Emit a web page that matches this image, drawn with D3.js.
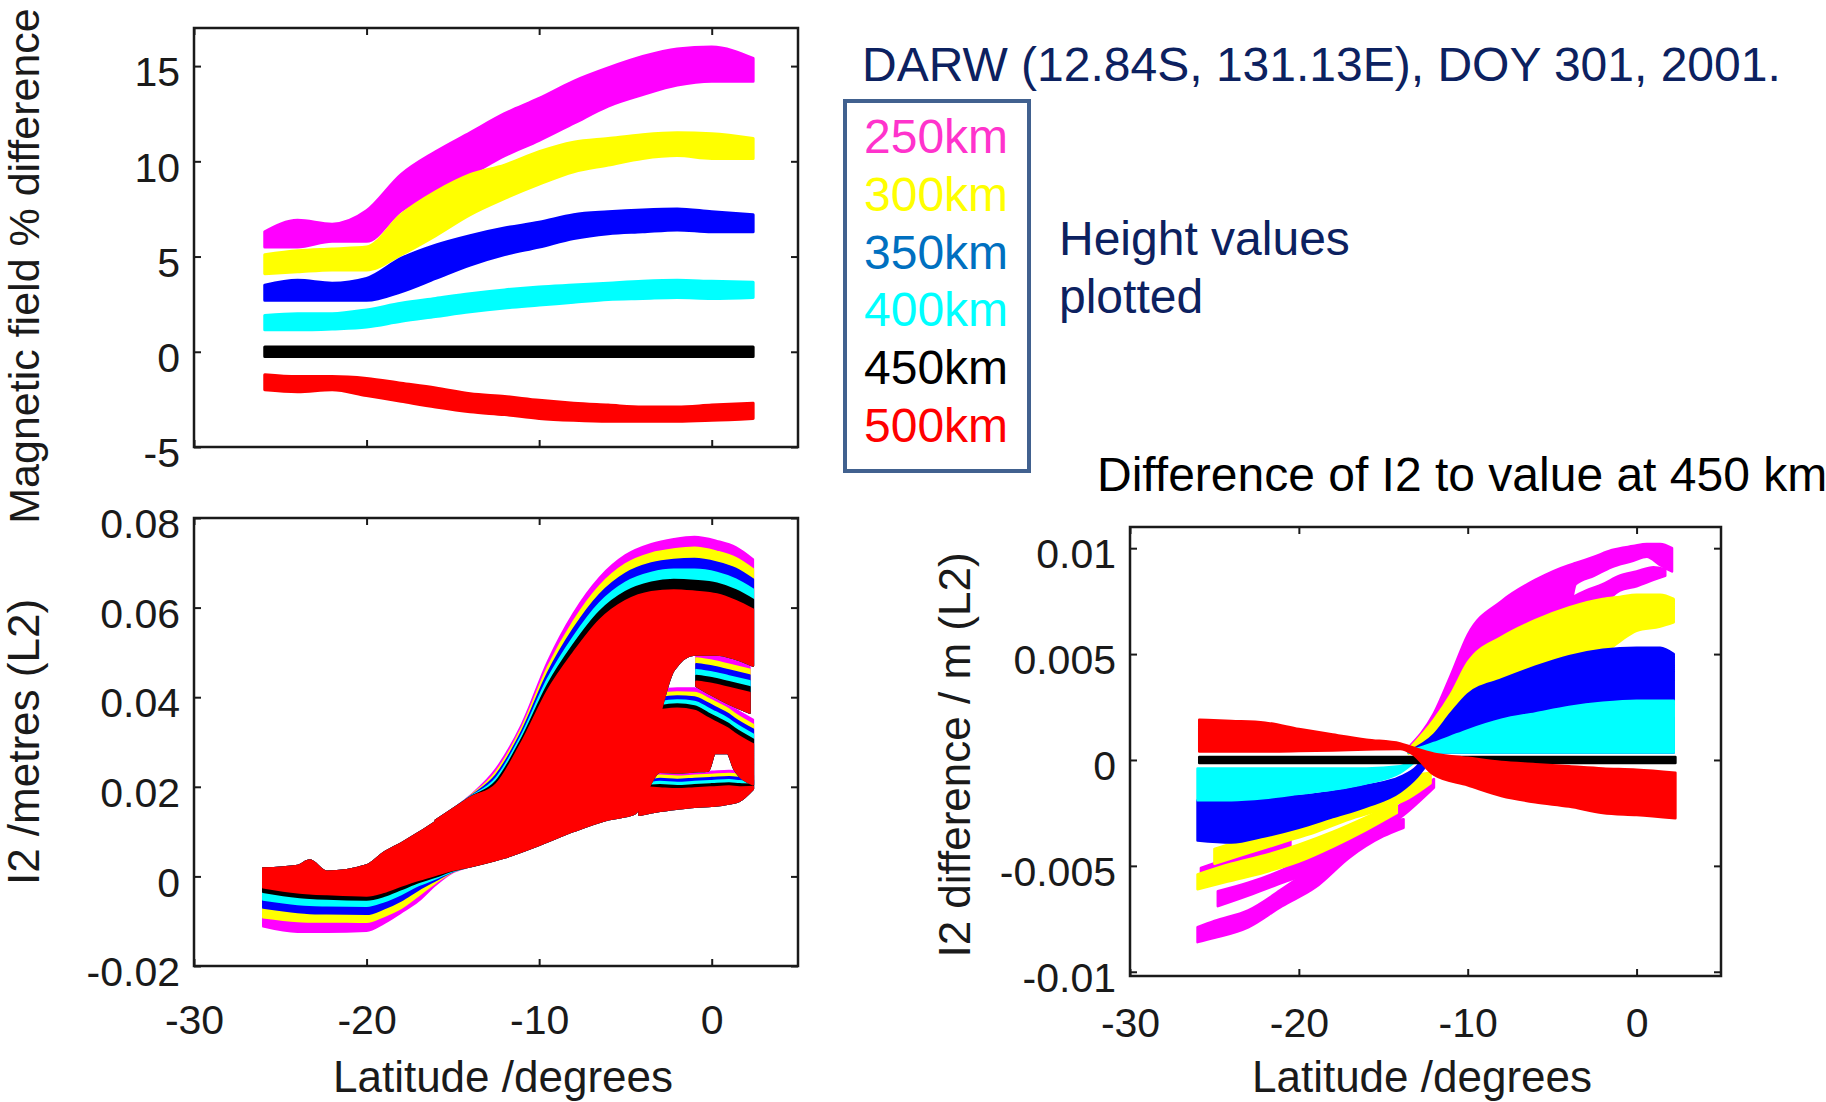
<!DOCTYPE html>
<html>
<head>
<meta charset="utf-8">
<script src="https://cdn.jsdelivr.net/npm/d3@7"></script>
<style>
  body { margin: 0; background: #fff; }
  svg text { font-family: "Liberation Sans", Arial, Helvetica, sans-serif; }
</style>
</head>
<body>
<script>
// DATA ------------------------------------

const heights = ["250km", "300km", "350km", "400km", "450km", "500km"];
const bandColors = ["#ff00ff", "#ffff00", "#0000ff", "#00ffff", "#000000", "#ff0000"];
const legendColors = ["#ff33cc", "#ffff00", "#0070c0", "#00ffff", "#000000", "#ff0000"];

const xTicks = [-30, -20, -10, 0];
const magTicks = [-5, 0, 5, 10, 15];
const i2Ticks = [-0.02, 0, 0.02, 0.04, 0.06, 0.08];
const dI2Ticks = [-0.01, -0.005, 0, 0.005, 0.01];

// top panel: magnetic field % difference, upper / lower edge of each band
const magLat = [-25.9, -24, -22, -20, -18, -16, -14, -12, -10, -8, -6, -4, -2, 0, 2.4];
const magHi = [
  [6.3, 6.9, 6.7, 7.4, 9.3, 10.5, 11.5, 12.5, 13.3, 14.2, 14.9, 15.5, 15.9, 16.0, 15.4],
  [5.1, 5.3, 5.4, 5.5, 7.2, 8.4, 9.3, 9.8, 10.5, 11.0, 11.2, 11.4, 11.5, 11.45, 11.2],
  [3.5, 3.75, 3.6, 3.85, 4.9, 5.6, 6.1, 6.5, 6.8, 7.2, 7.35, 7.45, 7.5, 7.35, 7.2],
  [1.9, 2.0, 2.0, 2.2, 2.55, 2.8, 3.05, 3.25, 3.4, 3.5, 3.6, 3.7, 3.75, 3.7, 3.65],
  [0.25, 0.25, 0.25, 0.25, 0.25, 0.25, 0.25, 0.25, 0.25, 0.25, 0.25, 0.25, 0.25, 0.25, 0.25],
  [-1.2, -1.3, -1.3, -1.4, -1.65, -1.9, -2.2, -2.35, -2.55, -2.7, -2.8, -2.9, -2.9, -2.8, -2.7]
];
const magLo = [
  [5.5, 5.5, 5.8, 5.8, 7.4, 8.4, 9.3, 10.3, 11.1, 12.0, 12.9, 13.5, 14.0, 14.2, 14.2],
  [4.1, 4.2, 4.3, 4.3, 5.1, 6.1, 7.2, 8.05, 8.8, 9.45, 9.8, 10.15, 10.3, 10.15, 10.15],
  [2.7, 2.7, 2.7, 2.7, 3.15, 3.85, 4.55, 5.1, 5.5, 5.95, 6.2, 6.3, 6.4, 6.3, 6.3],
  [1.15, 1.15, 1.2, 1.3, 1.6, 1.85, 2.1, 2.3, 2.45, 2.6, 2.75, 2.8, 2.85, 2.8, 2.85],
  [-0.25, -0.25, -0.25, -0.25, -0.25, -0.25, -0.25, -0.25, -0.25, -0.25, -0.25, -0.25, -0.25, -0.25, -0.25],
  [-2.0, -2.1, -2.0, -2.3, -2.6, -2.9, -3.15, -3.3, -3.5, -3.6, -3.65, -3.65, -3.65, -3.6, -3.5]
];

// bottom-left panel: I2 in metres, four parts of each cloud (body, upper arch, right branch, lower arm)
const i2BodyLat = [-26, -24, -23.3, -22.3, -20, -19, -18, -17, -16, -15, -14, -12, -10, -8, -6, -4.5, -3, -2, -1, -0.2, 0.2, 0.9, 1.3, 2.4];
const i2BodyHi = [
  [0.0018, 0.0024, 0.0036, 0.0011, 0.0025, 0.0053, 0.0074, 0.0097, 0.0122, 0.0148, 0.0176, 0.0200, 0.0250, 0.0300, 0.0340, 0.0360, 0.0416, 0.0420, 0.0420, 0.0408, 0.0400, 0.0386, 0.0375, 0.0350],
  [0.0018, 0.0024, 0.0036, 0.0011, 0.0025, 0.0053, 0.0074, 0.0097, 0.0122, 0.0148, 0.0176, 0.0200, 0.0250, 0.0300, 0.0340, 0.0360, 0.0407, 0.0411, 0.0410, 0.0397, 0.0389, 0.0375, 0.0364, 0.0339],
  [0.0018, 0.0024, 0.0036, 0.0011, 0.0025, 0.0053, 0.0074, 0.0097, 0.0122, 0.0148, 0.0176, 0.0200, 0.0250, 0.0300, 0.0340, 0.0360, 0.0398, 0.0402, 0.0400, 0.0386, 0.0378, 0.0364, 0.0353, 0.0328],
  [0.0018, 0.0024, 0.0036, 0.0011, 0.0025, 0.0053, 0.0074, 0.0097, 0.0122, 0.0148, 0.0176, 0.0200, 0.0250, 0.0300, 0.0340, 0.0360, 0.0389, 0.0393, 0.0390, 0.0375, 0.0367, 0.0353, 0.0342, 0.0317],
  [0.0018, 0.0024, 0.0036, 0.0011, 0.0025, 0.0053, 0.0074, 0.0097, 0.0122, 0.0148, 0.0176, 0.0200, 0.0250, 0.0300, 0.0340, 0.0360, 0.0380, 0.0384, 0.0380, 0.0364, 0.0356, 0.0342, 0.0331, 0.0306],
  [0.0018, 0.0024, 0.0036, 0.0011, 0.0025, 0.0053, 0.0074, 0.0097, 0.0122, 0.0148, 0.0176, 0.0200, 0.0250, 0.0300, 0.0340, 0.0360, 0.0371, 0.0375, 0.0370, 0.0353, 0.0345, 0.0331, 0.0320, 0.0295]
];
const i2BodyLo = [
  [-0.0112, -0.0124, -0.0124, -0.0124, -0.0122, -0.0105, -0.0081, -0.0055, -0.0019, 0.0009, 0.0022, 0.0042, 0.0070, 0.0101, 0.0127, 0.0139, 0.0233, 0.0232, 0.0234, 0.0236, 0.0275, 0.0275, 0.0240, 0.0205],
  [-0.0092, -0.0100, -0.0101, -0.0101, -0.0102, -0.0089, -0.0071, -0.0043, -0.0014, 0.0010, 0.0022, 0.0042, 0.0070, 0.0101, 0.0127, 0.0139, 0.0233, 0.0232, 0.0234, 0.0236, 0.0275, 0.0275, 0.0240, 0.0205],
  [-0.0070, -0.0080, -0.0082, -0.0083, -0.0084, -0.0072, -0.0054, -0.0030, -0.0009, 0.0011, 0.0022, 0.0042, 0.0070, 0.0101, 0.0127, 0.0139, 0.0233, 0.0232, 0.0234, 0.0236, 0.0275, 0.0275, 0.0240, 0.0205],
  [-0.0052, -0.0062, -0.0064, -0.0065, -0.0066, -0.0056, -0.0040, -0.0020, -0.0005, 0.0012, 0.0022, 0.0042, 0.0070, 0.0101, 0.0127, 0.0139, 0.0233, 0.0232, 0.0234, 0.0236, 0.0275, 0.0275, 0.0240, 0.0205],
  [-0.0035, -0.0046, -0.0048, -0.0050, -0.0052, -0.0044, -0.0029, -0.0013, -0.0001, 0.0013, 0.0022, 0.0042, 0.0070, 0.0101, 0.0127, 0.0139, 0.0233, 0.0232, 0.0234, 0.0236, 0.0275, 0.0275, 0.0240, 0.0205],
  [-0.0025, -0.0036, -0.0038, -0.0040, -0.0043, -0.0035, -0.0021, -0.0008, 0.0003, 0.0014, 0.0022, 0.0042, 0.0070, 0.0101, 0.0127, 0.0139, 0.0233, 0.0232, 0.0234, 0.0236, 0.0275, 0.0275, 0.0240, 0.0205]
];
const i2ArchLat = [-16, -14, -12.5, -11, -9.5, -8, -6.5, -5, -3.5, -2.2, -1, 0.3, 1.4, 2.4];
const i2ArchHi = [
  [0.0125, 0.0180, 0.0240, 0.0340, 0.0480, 0.0588, 0.0667, 0.0717, 0.0742, 0.0753, 0.0758, 0.0749, 0.0735, 0.0708],
  [0.0125, 0.0179, 0.0233, 0.0332, 0.0467, 0.0570, 0.0648, 0.0697, 0.0721, 0.0730, 0.0734, 0.0725, 0.0711, 0.0686],
  [0.0125, 0.0178, 0.0226, 0.0324, 0.0454, 0.0553, 0.0629, 0.0676, 0.0699, 0.0707, 0.0709, 0.0701, 0.0687, 0.0663],
  [0.0125, 0.0177, 0.0219, 0.0316, 0.0441, 0.0535, 0.0610, 0.0656, 0.0678, 0.0685, 0.0685, 0.0678, 0.0663, 0.0641],
  [0.0125, 0.0176, 0.0212, 0.0308, 0.0428, 0.0518, 0.0591, 0.0635, 0.0656, 0.0662, 0.0660, 0.0654, 0.0639, 0.0618],
  [0.0125, 0.0175, 0.0205, 0.0300, 0.0415, 0.0500, 0.0572, 0.0615, 0.0635, 0.0639, 0.0636, 0.0630, 0.0615, 0.0596]
];
const i2ArchLo = [0.0115, 0.0125, 0.0140, 0.0160, 0.0180, 0.0200, 0.0220, 0.0240, 0.0300, 0.0460, 0.0495, 0.0495, 0.0485, 0.0470];
const i2BranchLat = [-0.9, 0, 1, 2.2];
const i2BranchHi = [
  [0.0500, 0.0495, 0.0486, 0.0475],
  [0.0487, 0.0482, 0.0473, 0.0462],
  [0.0474, 0.0469, 0.0460, 0.0449],
  [0.0461, 0.0456, 0.0447, 0.0436],
  [0.0448, 0.0443, 0.0434, 0.0423],
  [0.0435, 0.0430, 0.0421, 0.0410]
];
const i2BranchLo = [0.0425, 0.0405, 0.0385, 0.0365];
const i2LowerLat = [-4.2, -3, -2, -1, 0, 1, 1.6, 2.4];
const i2LowerHi = [
  [0.0200, 0.0232, 0.0230, 0.0232, 0.0234, 0.0236, 0.0234, 0.0225],
  [0.0200, 0.0225, 0.0223, 0.0225, 0.0227, 0.0229, 0.0227, 0.0220],
  [0.0200, 0.0218, 0.0216, 0.0218, 0.0220, 0.0222, 0.0220, 0.0215],
  [0.0200, 0.0211, 0.0209, 0.0211, 0.0213, 0.0215, 0.0213, 0.0210],
  [0.0200, 0.0204, 0.0202, 0.0204, 0.0206, 0.0208, 0.0206, 0.0205],
  [0.0200, 0.0197, 0.0195, 0.0197, 0.0199, 0.0201, 0.0199, 0.0200]
];
const i2LowerLo = [0.0137, 0.0146, 0.0151, 0.0155, 0.0157, 0.0162, 0.0168, 0.0195];

// bottom-right panel: I2 difference to 450 km, rows of [latitude, upper edge, lower edge]
const dI2MagStreakL = [[-25.8, -0.0051, -0.0054], [-24, -0.0046, -0.0050], [-22, -0.0041, -0.0046], [-20.5, -0.0037, -0.0042]];
const dI2MagMidL = [[-24.8, -0.0062, -0.0069], [-23, -0.0058, -0.0064], [-21, -0.0052, -0.0058], [-19, -0.0044, -0.0052], [-17, -0.0036, -0.0043], [-15, -0.0027, -0.0033], [-13.8, -0.0020, -0.0026], [-12.0, -0.0009, -0.0013]];
const dI2MagLowL = [[-26, -0.0079, -0.0086], [-25, -0.0076, -0.0084], [-23, -0.0071, -0.0079], [-21, -0.0061, -0.0069], [-19, -0.0050, -0.0060], [-17, -0.0038, -0.0046], [-15, -0.0030, -0.0036], [-13.8, -0.0028, -0.0032]];
const dI2MagUpR = [[-13.5, 0.0006, 0.0004], [-12, 0.0022, 0.0017], [-11, 0.0040, 0.0029], [-10, 0.0059, 0.0044], [-8, 0.0075, 0.0056], [-6, 0.0085, 0.0064], [-4, 0.0092, 0.0070], [-3.6, 0.0093, 0.0083], [-2.5, 0.0096, 0.0087], [-1.5, 0.0099, 0.0091], [-0.2, 0.0101, 0.0094], [0.6, 0.0102, 0.0096], [1.4, 0.0102, 0.0092], [2.1, 0.0100, 0.0089]];
const dI2MagLowR = [[-4, 0.0076, 0.0068], [-3, 0.0080, 0.0071], [-2, 0.0083, 0.0074], [-1, 0.0087, 0.0080], [0, 0.0089, 0.0082], [1, 0.0091, 0.0085], [1.7, 0.0090, 0.0087]];
const dI2YelUpL = [[-25, -0.0042, -0.0049], [-23, -0.0037, -0.0044], [-21, -0.0032, -0.0039], [-19, -0.0027, -0.0034], [-17, -0.0021, -0.0028], [-15, -0.0014, -0.0023], [-13.5, -0.0008, -0.0018], [-12.2, -0.0006, -0.0011]];
const dI2YelLowL = [[-26, -0.0054, -0.0061], [-24, -0.0049, -0.0057], [-22, -0.0045, -0.0053], [-20, -0.0040, -0.0048], [-18, -0.0034, -0.0041], [-16, -0.0027, -0.0033], [-14.2, -0.0020, -0.0025]];
const dI2YelR = [[-13.5, 0.0005, 0.0003], [-12, 0.0019, 0.0010], [-11, 0.0031, 0.0018], [-10, 0.0046, 0.0026], [-8, 0.0058, 0.0033], [-6, 0.0066, 0.0039], [-4, 0.0072, 0.0044], [-2, 0.0076, 0.0050], [-1, 0.0077, 0.0056], [0, 0.0078, 0.0061], [1.4, 0.0078, 0.0063], [2.2, 0.0076, 0.0065]];
const dI2BlueL = [[-26, -0.0019, -0.0038], [-24, -0.0019, -0.0039], [-22, -0.0018, -0.0036], [-20, -0.0017, -0.0032], [-18, -0.0015, -0.0027], [-16, -0.0012, -0.0022], [-14, -0.0008, -0.0015], [-13, -0.0003, -0.0008], [-12.6, 0.0001, -0.0004]];
const dI2BlueR = [[-13.5, 0.0004, 0.00035], [-12, 0.0012, 0.00035], [-11, 0.0022, 0.00035], [-10, 0.0031, 0.00035], [-8, 0.0038, 0.00035], [-6, 0.0044, 0.00035], [-4, 0.0049, 0.00035], [-2, 0.0052, 0.00035], [0, 0.0053, 0.00035], [1.4, 0.0053, 0.00035], [2.2, 0.0050, 0.00035]];
const dI2CyanL = [[-26, -0.0004, -0.0019], [-24, -0.0004, -0.0019], [-22, -0.0004, -0.0018], [-20, -0.0004, -0.0016], [-18, -0.0004, -0.0014], [-16, -0.0004, -0.0011], [-14, -0.0003, -0.0006], [-13, 0.0002, 0.0]];
const dI2CyanR = [[-13.5, 0.0004, 0.00035], [-12, 0.0008, 0.00035], [-11, 0.0011, 0.00035], [-10, 0.0014, 0.00035], [-8, 0.0019, 0.00035], [-6, 0.0022, 0.00035], [-4, 0.0025, 0.00035], [-2, 0.0027, 0.00035], [0, 0.0028, 0.00035], [1.4, 0.0028, 0.00035], [2.2, 0.0028, 0.00035]];
const dI2Black = [[-25.9, 0.00014, -0.00014], [-18, 0.00014, -0.00014], [-10, 0.00014, -0.00014], [-2, 0.00014, -0.00014], [2.3, 0.00014, -0.00014]];
const dI2Red = [[-25.9, 0.0019, 0.0004], [-24, 0.00184, 0.0004], [-22, 0.00176, 0.0004], [-20, 0.00146, 0.00042], [-18, 0.0012, 0.00045], [-16, 0.00096, 0.0005], [-14, 0.00078, 0.00052], [-13.3, 0.0006, 0.0003], [-12, 0.0003, -0.0007], [-10, 0.0001, -0.0012], [-8, -0.0001, -0.0017], [-6, -0.0002, -0.002], [-4, -0.0003, -0.0022], [-2, -0.0004, -0.0025], [0, -0.00046, -0.0026], [2.3, -0.0006, -0.00275]];

// series index -> arms, in drawing order
const dI2Arms = [
  [0, dI2MagStreakL], [0, dI2MagMidL], [0, dI2MagLowL], [0, dI2MagUpR], [0, dI2MagLowR],
  [1, dI2YelUpL], [1, dI2YelLowL], [1, dI2YelR],
  [2, dI2BlueL], [2, dI2BlueR],
  [3, dI2CyanL], [3, dI2CyanR],
  [4, dI2Black],
  [5, dI2Red]
];

// CHART INIT ------------------------------

const fontFamily = '"Liberation Sans", Arial, Helvetica, sans-serif';

const svg = d3
  .select("body")
  .append("svg")
  .attr("width", 1826)
  .attr("height", 1102);

const panelMag = { left: 194, right: 798, top: 28, bottom: 447, yDomain: [-5, 17], yTicks: magTicks, showX: false, xPad: 0 };
const panelI2 = { left: 194, right: 798, top: 518, bottom: 966, yDomain: [-0.02, 0.08], yTicks: i2Ticks, showX: true, xPad: 39 };
const panelDI2 = { left: 1130, right: 1721, top: 527, bottom: 976, yDomain: [-0.0102, 0.011], yTicks: dI2Ticks, showX: true, xPad: 32 };

function scalesFor(p) {
  const x = d3.scaleLinear().domain([-30, 5]).range([p.left, p.right]);
  const y = d3.scaleLinear().domain(p.yDomain).range([p.bottom, p.top]);
  return { x, y };
}

function drawBand(g, s, rows, color, sw) {
  const area = d3
    .area()
    .x((d) => s.x(d[0]))
    .y1((d) => s.y(d[1]))
    .y0((d) => s.y(d[2]))
    .curve(d3.curveMonotoneX);
  g.append("path")
    .datum(rows)
    .attr("d", area)
    .attr("fill", color)
    .attr("stroke", color)
    .attr("stroke-width", sw)
    .attr("stroke-linejoin", "round");
}

function rowsOf(lat, hi, lo) {
  return lat.map((d, i) => [d, hi[i], lo[i]]);
}

function drawAxes(p, s) {
  const fmt = (d) => String(d);
  const ax = svg.append("g").attr("color", "#1a1a1a").attr("font-family", fontFamily);

  const left = ax.append("g")
    .attr("transform", `translate(${p.left},0)`)
    .call(d3.axisLeft(s.y).tickValues(p.yTicks).tickFormat(fmt).tickSize(-7).tickSizeOuter(0).tickPadding(14));
  left.attr("font-size", 41);
  left.selectAll("text").attr("dy", "0.48em");

  ax.append("g")
    .attr("transform", `translate(${p.right},0)`)
    .call(d3.axisRight(s.y).tickValues(p.yTicks).tickFormat("").tickSize(-7).tickSizeOuter(0));

  const bottom = ax.append("g")
    .attr("transform", `translate(0,${p.bottom})`)
    .call(d3.axisBottom(s.x).tickValues(xTicks).tickFormat(p.showX ? fmt : "").tickSize(-7).tickSizeOuter(0).tickPadding(p.xPad));
  bottom.attr("font-size", 41);

  ax.append("g")
    .attr("transform", `translate(0,${p.top})`)
    .call(d3.axisTop(s.x).tickValues(xTicks).tickFormat("").tickSize(-7).tickSizeOuter(0));

  ax.selectAll(".domain").remove();
  ax.selectAll(".tick line").attr("stroke-width", 2);

  svg.append("rect")
    .attr("x", p.left)
    .attr("y", p.top)
    .attr("width", p.right - p.left)
    .attr("height", p.bottom - p.top)
    .attr("fill", "none")
    .attr("stroke", "#1a1a1a")
    .attr("stroke-width", 2.5);
}

// TOP PANEL -------------------------------

const sMag = scalesFor(panelMag);
const gMag = svg.append("g");
heights.forEach((h, i) => {
  drawBand(gMag, sMag, rowsOf(magLat, magHi[i], magLo[i]), bandColors[i], 3);
});
drawAxes(panelMag, sMag);

// BOTTOM-LEFT PANEL -----------------------

const sI2 = scalesFor(panelI2);
const gI2 = svg.append("g");
heights.forEach((h, i) => {
  drawBand(gI2, sI2, rowsOf(i2BodyLat, i2BodyHi[i], i2BodyLo[i]), bandColors[i], 2);
  drawBand(gI2, sI2, rowsOf(i2ArchLat, i2ArchHi[i], i2ArchLo), bandColors[i], 2);
  drawBand(gI2, sI2, rowsOf(i2BranchLat, i2BranchHi[i], i2BranchLo), bandColors[i], 2);
  drawBand(gI2, sI2, rowsOf(i2LowerLat, i2LowerHi[i], i2LowerLo), bandColors[i], 2);
});
drawAxes(panelI2, sI2);

// BOTTOM-RIGHT PANEL ----------------------

const sDI2 = scalesFor(panelDI2);
const gDI2 = svg.append("g");
dI2Arms.forEach(([k, rows]) => {
  drawBand(gDI2, sDI2, rows, bandColors[k], 2.5);
});
drawAxes(panelDI2, sDI2);

// AXIS TITLES -----------------------------

function rotatedLabel(text, x, y, size) {
  svg.append("text")
    .attr("transform", `translate(${x},${y}) rotate(-90)`)
    .attr("text-anchor", "middle")
    .attr("font-size", size)
    .attr("fill", "#1a1a1a")
    .text(text);
}
rotatedLabel("Magnetic field % difference", 39, 266, 43);
rotatedLabel("I2 /metres (L2)", 39, 742, 44);
rotatedLabel("I2 difference / m (L2)", 970, 755, 44);

[[503, 1092], [1422, 1092]].forEach(([x, y]) => {
  svg.append("text")
    .attr("x", x).attr("y", y)
    .attr("text-anchor", "middle")
    .attr("font-size", 44)
    .attr("fill", "#1a1a1a")
    .text("Latitude /degrees");
});

// ANNOTATIONS AND LEGEND ------------------

svg.append("text")
  .attr("x", 862).attr("y", 81)
  .attr("font-size", 48)
  .attr("fill", "#0c2160")
  .text("DARW (12.84S, 131.13E), DOY 301, 2001.");

svg.append("rect")
  .attr("x", 845).attr("y", 101)
  .attr("width", 184).attr("height", 370)
  .attr("fill", "none")
  .attr("stroke", "#41618f")
  .attr("stroke-width", 4);

heights.forEach((h, i) => {
  svg.append("text")
    .attr("x", 864)
    .attr("y", 153 + i * 57.8)
    .attr("font-size", 48)
    .attr("fill", legendColors[i])
    .text(h);
});

svg.append("text")
  .attr("x", 1059).attr("y", 255)
  .attr("font-size", 48)
  .attr("fill", "#0c2160")
  .text("Height values");
svg.append("text")
  .attr("x", 1059).attr("y", 313)
  .attr("font-size", 48)
  .attr("fill", "#0c2160")
  .text("plotted");

svg.append("text")
  .attr("x", 1097).attr("y", 491)
  .attr("font-size", 48)
  .attr("fill", "#000")
  .text("Difference of I2 to value at 450 km");
</script>
</body>
</html>
